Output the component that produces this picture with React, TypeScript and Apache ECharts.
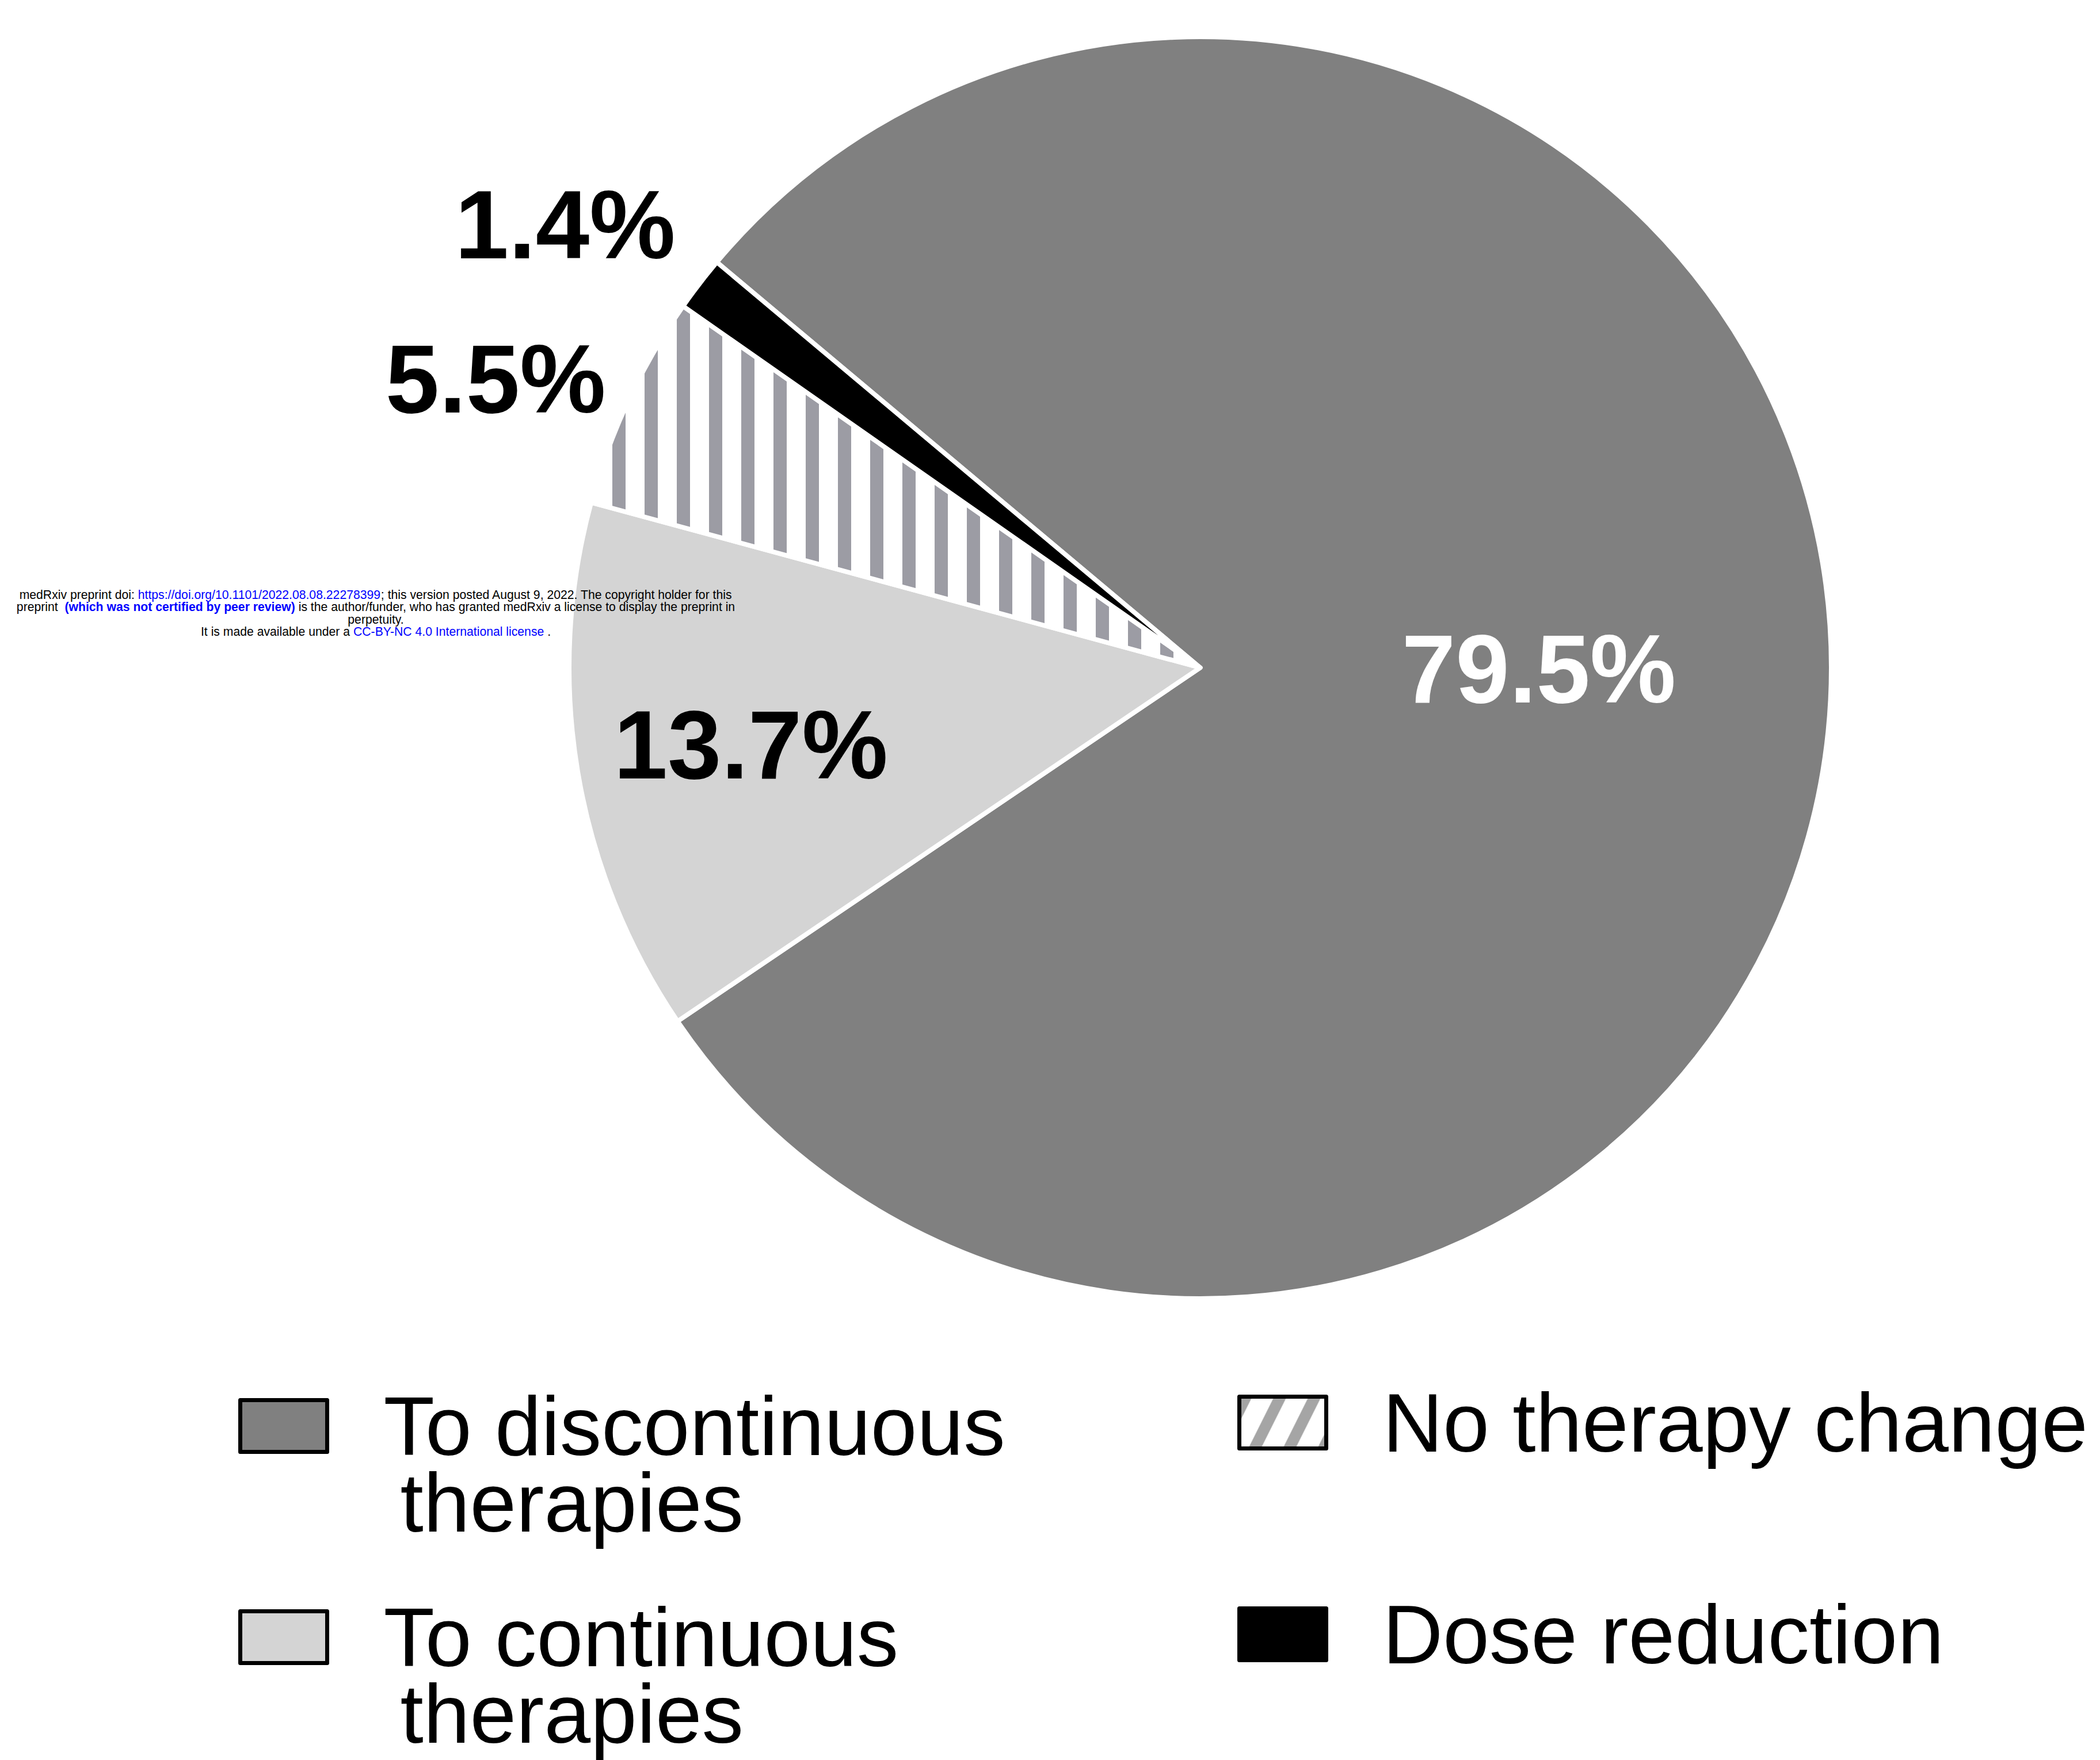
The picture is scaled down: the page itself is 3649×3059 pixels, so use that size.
import React, { useEffect, useRef } from 'react';
import * as echarts from 'echarts';

// ---- data ----
const categories = ['To discontinuous therapies', 'To continuous therapies', 'No therapy change', 'Dose reduction'];
const values = [79.5, 13.7, 5.5, 1.4];
const sliceColors = ['#808080', '#d4d4d4', 'stripes', '#000000'];
const labelColors = ['#ffffff', '#000000', '#000000', '#000000'];
// label shifts from the default inner label spot (style only)
const labelShifts = [[38, -26], [-237, 44], [-725, -268], [-666, -434]];

// legend layout: [left, top] for each category
const legendSpots = [[414, 2273], [414, 2640], [2150, 2400], [2150, 2768]];

const noticeLines = [
  '{n|medRxiv preprint doi: }{l|https://doi.org/10.1101/2022.08.08.22278399}{n|; this version posted August 9, 2022. The copyright holder for this}',
  '{n|preprint  }{b|(which was not certified by peer review)}{n| is the author/funder, who has granted medRxiv a license to display the preprint in}',
  '{n|perpetuity.}',
  '{n|It is made available under a }{l|CC-BY-NC 4.0 International license}{n| .}',
];

const FONT = "'Liberation Sans', Arial, Helvetica, sans-serif";
const NOTE_SIZE = 21.2;

function makeVerticalStripes() {
  const c = document.createElement('canvas');
  c.width = 56;
  c.height = 8;
  const ctx = c.getContext('2d')!;
  ctx.fillStyle = '#ffffff';
  ctx.fillRect(0, 0, 56, 8);
  ctx.fillStyle = '#9c9ca4';
  ctx.fillRect(0, 0, 23, 8);
  return c;
}

function makeDiagonalStripes() {
  const w = 60, h = 120;
  const c = document.createElement('canvas');
  c.width = w;
  c.height = h;
  const ctx = c.getContext('2d')!;
  const img = ctx.createImageData(w, h);
  for (let y = 0; y < h; y++) {
    for (let x = 0; x < w; x++) {
      const k = (2 * x + y) % 120;
      const v = k < 44 ? 165 : 255;
      const i = (y * w + x) * 4;
      img.data[i] = v;
      img.data[i + 1] = v;
      img.data[i + 2] = v;
      img.data[i + 3] = 255;
    }
  }
  ctx.putImageData(img, 0, 0);
  return c;
}

export default function App() {
  const ref = useRef<HTMLDivElement>(null);

  useEffect(() => {
    document.body.style.margin = '0';
    const chart = echarts.init(ref.current!, undefined, { renderer: 'svg' });

    const stripeCanvas = makeVerticalStripes();
    const diagCanvas = makeDiagonalStripes();
    const stripePattern: any = { image: stripeCanvas, repeat: 'repeat', imageWidth: 56, imageHeight: 8 };
    const diagPattern: any = { image: diagCanvas, repeat: 'repeat', imageWidth: 60, imageHeight: 120 };

    const pieData = categories.map((name, i) => ({
      name,
      value: values[i],
      itemStyle: { color: sliceColors[i] === 'stripes' ? stripePattern : sliceColors[i] },
      label: { color: labelColors[i] },
    }));

    const legends = categories.map((name, i) => {
      const twoLine = name.endsWith(' therapies');
      return {
        show: true,
        data: [i === 2 ? { name, itemStyle: { color: diagPattern } } : name],
        left: legendSpots[i][0],
        top: legendSpots[i][1],
        padding: 0,
        icon: 'rect',
        itemWidth: 151,
        itemHeight: 90,
        selectedMode: false,
        itemStyle: { borderColor: '#000000', borderWidth: 7 },
        // a blank first line keeps the first text line level with the swatch
        formatter: (n: string) =>
          twoLine ? '\u00a0\n' + n.replace(' therapies', '\n\u2009therapies') : n,
        textStyle: {
          fontSize: 145,
          lineHeight: 133,
          color: '#000000',
          fontFamily: FONT,
          padding: [0, 0, 0, 93],
        },
      };
    });

    const notice = noticeLines.map((t, i) => ({
      type: 'text',
      x: 653,
      y: 1033 + i * 21.5,
      z: 100,
      silent: true,
      style: {
        text: t,
        align: 'center',
        verticalAlign: 'middle',
        fontFamily: FONT,
        fontSize: NOTE_SIZE,
        fill: '#000000',
        rich: {
          n: { fontSize: NOTE_SIZE, fontFamily: FONT, fill: '#000000', color: '#000000' },
          l: { fontSize: NOTE_SIZE, fontFamily: FONT, fill: '#0000ff', color: '#0000ff' },
          b: { fontSize: NOTE_SIZE, fontFamily: FONT, fontWeight: 'bold', fill: '#0000ff', color: '#0000ff' },
        },
      },
    }));

    chart.setOption({
      animation: false,
      backgroundColor: '#ffffff',
      legend: legends,
      series: [
        {
          type: 'pie',
          center: [2085.5, 1160.5],
          radius: 1096.5,
          startAngle: 140,
          clockwise: true,
          avoidLabelOverlap: false,
          silent: true,
          data: pieData,
          itemStyle: { borderColor: '#ffffff', borderWidth: 8 },
          label: {
            show: true,
            position: 'inside',
            formatter: '{c}%',
            fontSize: 168,
            fontWeight: 'bold',
            fontFamily: FONT,
          },
          labelLine: { show: false },
          labelLayout: (p: any) => ({ dx: labelShifts[p.dataIndex][0], dy: labelShifts[p.dataIndex][1] }),
          emphasis: { disabled: true },
        },
      ],
      graphic: notice,
    });

    return () => chart.dispose();
  }, []);

  return (
    <div
      ref={ref}
      style={{ position: 'absolute', left: 0, top: 0, width: 3649, height: 3059 }}
    />
  );
}
